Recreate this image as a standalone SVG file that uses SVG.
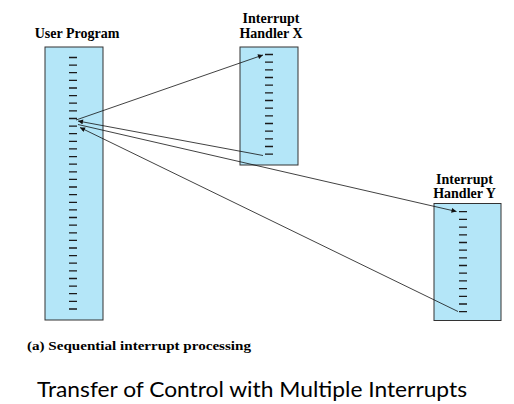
<svg xmlns="http://www.w3.org/2000/svg" width="514" height="404" viewBox="0 0 514 404">
<style>
.bg{fill:#ffffff}
.box{fill:#b4e6f8;stroke:#333333;stroke-width:1}
.tick{fill:none;stroke:#1a1a1a;stroke-width:1.3}
.lbl{font-family:"Liberation Serif","Times New Roman",serif;font-weight:bold;font-size:14px;fill:#000000;text-anchor:middle}
.cap{font-family:"Liberation Serif","Times New Roman",serif;font-weight:bold;font-size:13px;fill:#000000}
.title{font-family:Lato,"Liberation Sans",sans-serif;font-size:21px;fill:#000000}
.conn{fill:none;stroke:#111111;stroke-width:0.8;marker-end:url(#ah)}
</style>
<defs>
<marker id="ah" viewBox="0 0 10 10" refX="10" refY="5" markerWidth="7" markerHeight="5" markerUnits="userSpaceOnUse" orient="auto">
<path d="M0,0 L10,5 L0,10 z" fill="#111111"/>
</marker>
</defs>
<rect class="bg" x="0" y="0" width="514" height="404"/>

<g id="user-program">
<rect class="box" x="45" y="47" width="58" height="273"/>
<path class="tick" d="M69,57.5h8M69,65.1h8M69,72.7h8M69,80.4h8M69,88h8M69,95.6h8M69,103.2h8M69,110.8h8M69,118.5h8M69,126.1h8M69,133.7h8M69,141.3h8M69,148.9h8M69,156.6h8M69,164.2h8M69,171.8h8M69,179.4h8M69,187h8M69,194.7h8M69,202.3h8M69,209.9h8M69,217.5h8M69,225.1h8M69,232.8h8M69,240.4h8M69,248h8M69,255.6h8M69,263.2h8M69,270.9h8M69,278.5h8M69,286.1h8M69,293.7h8M69,301.3h8M69,309h8"/>
<text class="lbl" x="77" y="38">User Program</text>
</g>

<g id="handler-x">
<rect class="box" x="240" y="47" width="58" height="118"/>
<path class="tick" d="M265,54.5h8M265,62.2h8M265,69.8h8M265,77.5h8M265,85.2h8M265,92.8h8M265,100.5h8M265,108.2h8M265,115.9h8M265,123.5h8M265,131.2h8M265,138.9h8M265,146.5h8M265,154.2h8"/>
<text class="lbl" x="271" y="23">Interrupt</text>
<text class="lbl" x="271" y="37.5">Handler X</text>
</g>

<g id="handler-y">
<rect class="box" x="434" y="203.5" width="67" height="117"/>
<path class="tick" d="M459,211.7h8M459,219.4h8M459,227.1h8M459,234.8h8M459,242.5h8M459,250.1h8M459,257.8h8M459,265.5h8M459,273.2h8M459,280.9h8M459,288.6h8M459,296.3h8M459,304h8M459,311.7h8"/>
<text class="lbl" x="464.5" y="183.5">Interrupt</text>
<text class="lbl" x="464.5" y="197.5">Handler Y</text>
</g>

<g id="connectors">
<line class="conn" x1="76" y1="120" x2="263" y2="55"/>
<line class="conn" x1="263" y1="155.5" x2="78" y2="121"/>
<line class="conn" x1="78" y1="124.5" x2="456.5" y2="211.5"/>
<line class="conn" x1="458" y1="311.5" x2="80" y2="127.5"/>
</g>

<text class="cap" x="27" y="350" textLength="224" lengthAdjust="spacingAndGlyphs">(a) Sequential interrupt processing</text>
<text class="title" x="37" y="397" textLength="430" lengthAdjust="spacingAndGlyphs">Transfer of Control with Multiple Interrupts</text>
</svg>
